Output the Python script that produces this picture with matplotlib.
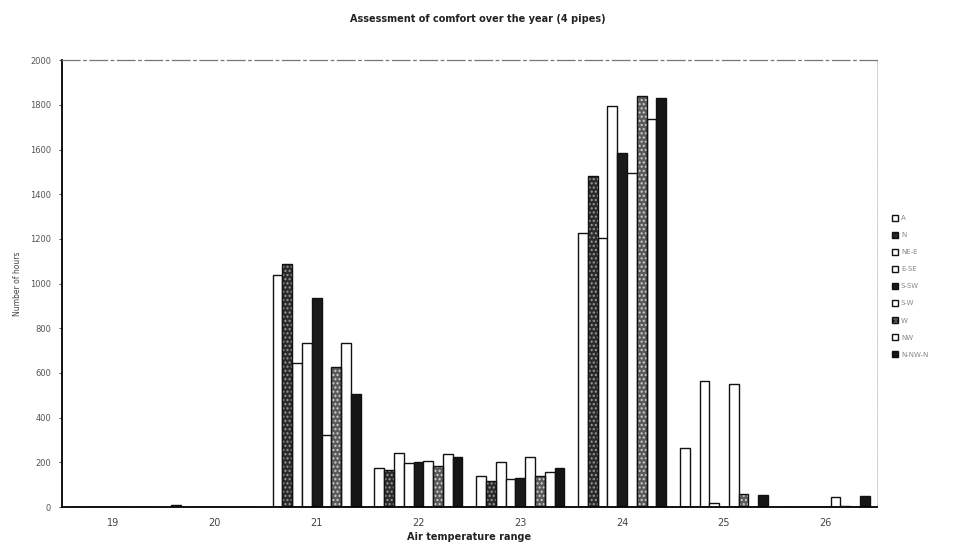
import matplotlib.pyplot as plt
import numpy as np

# temperature classes on the x axis
ranges = ['19', '20', '21', '22', '23', '24', '25', '26']

# hours per temperature class for each case
labels = ['A', 'N', 'NE-E', 'E-SE', 'S-SW', 'S-W', 'W', 'NW', 'N-NW-N']
h1 = [0, 8, 1040, 174, 139, 1226, 264, 0]
h2 = [0, 0, 1090, 166, 117, 1481, 0, 0]
h3 = [0, 0, 644, 242, 201, 1204, 564, 0]
h4 = [0, 0, 734, 197, 125, 1794, 18, 0]
h5 = [0, 0, 935, 201, 130, 1584, 0, 0]
h6 = [0, 0, 322, 206, 224, 1494, 550, 45]
h7 = [0, 0, 626, 184, 139, 1839, 58, 5]
h8 = [0, 0, 734, 237, 157, 1736, 0, 0]
h9 = [0, 0, 505, 224, 174, 1830, 54, 50]
series = [h1, h2, h3, h4, h5, h6, h7, h8, h9]

# fill, hatch colour, hatch
styles = [
    ('white', None, None),
    ('#2b2b2b', '#9a9a9a', '....'),
    ('white', None, None),
    ('white', None, None),
    ('#1a1a1a', None, None),
    ('white', None, None),
    ('#5a5a5a', '#d0d0d0', '....'),
    ('white', None, None),
    ('#151515', None, None),
]

fig = plt.figure(figsize=(9.55, 5.47), dpi=100)
ax = fig.add_axes([0.065, 0.073, 0.853, 0.817])

x = np.arange(len(ranges))
w = 0.096
handles = []
for k, (vals, (fc, hc, hatch)) in enumerate(zip(series, styles)):
    pos = x + (k - 4) * w
    if hatch:
        ax.bar(pos, vals, w, color=fc, edgecolor=hc, hatch=hatch, linewidth=0, zorder=2)
        ax.bar(pos, vals, w, fill=False, edgecolor='#111111', linewidth=1.0, zorder=3)
    else:
        ax.bar(pos, vals, w, color=fc, edgecolor='#111111', linewidth=1.0, zorder=2)
    handles.append(plt.Rectangle((0, 0), 1, 1, facecolor=fc, edgecolor='#111111',
                                 hatch=hatch, linewidth=1.0))

ax.set_xlim(-0.5, len(ranges) - 0.5)
ax.set_ylim(0, 2000)
ax.set_yticks(np.arange(0, 2001, 200))
ax.set_xticks(x)
ax.set_xticklabels(ranges)
ax.tick_params(axis='y', labelsize=6, colors='#555555', length=2, pad=6)
ax.tick_params(axis='x', labelsize=7, colors='#444444', length=0, pad=8)

ax.spines['left'].set_linewidth(1.3)
ax.spines['bottom'].set_linewidth(1.3)
ax.spines['top'].set_color('#777777')
ax.spines['top'].set_linestyle((0, (14, 3, 2, 3)))
ax.spines['top'].set_linewidth(0.9)
ax.spines['right'].set_color('#bbbbbb')
ax.spines['right'].set_linestyle(':')
ax.spines['right'].set_linewidth(0.6)

ax.set_xlabel('Air temperature range', fontsize=7, fontweight='bold', color='#222222', labelpad=3)
ax.set_ylabel('Number of hours', fontsize=5.5, color='#444444', labelpad=6)
fig.suptitle('Assessment of comfort over the year (4 pipes)', fontsize=7,
             fontweight='bold', color='#222222', y=0.975)

leg = fig.legend(handles, labels, loc='upper left', bbox_to_anchor=(0.931, 0.612),
                 fontsize=5, frameon=False, handlelength=0.9, handleheight=0.9,
                 handletextpad=0.4, labelspacing=1.55, borderaxespad=0)
for t in leg.get_texts():
    t.set_color('#888888')

fig.savefig('out.png', dpi=100)
